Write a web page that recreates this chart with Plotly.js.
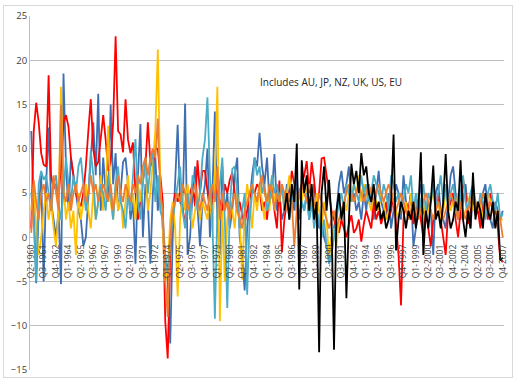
<!DOCTYPE html>
<html>
<head>
<meta charset="utf-8">
<script src="https://cdn.plot.ly/plotly-3.0.1.min.js"></script>
<style>
  html, body { margin: 0; padding: 0; background: #fff; }
  #wrap { position: relative; width: 515px; height: 380px; }
  #chart { position: absolute; left: 0; top: 0; width: 515px; height: 380px; }
  #frame { position: absolute; left: 3px; top: 5px; width: 508px; height: 371px; border: 1px solid #D9D9D9; pointer-events: none; }
</style>
</head>
<body>
<div id="wrap"><div id="chart"></div><div id="frame"></div></div>
<script>
// Quarterly categories, Q2-1960 .. Q4-2007
const startYear = 1960, startQ = 2, nQuarters = 191;
const quarters = [];
for (let i = 0; i < nQuarters; i++) {
  const q = (startQ - 1 + i) % 4 + 1;
  const y = startYear + Math.floor((startQ - 1 + i) / 4);
  quarters.push('Q' + q + '-' + y);
}
const tickLabels = quarters.filter((_, i) => i % 5 === 0);

const seriesNames = ['AU', 'JP', 'NZ', 'UK', 'US', 'EU'];

const blueVals = [
  12, 2, -5.2, 3, 7, -5, 6, 12.4, 4, 2,
  0, 3, -5.3, 18.5, 8, 3, 9, 7, 5, 3,
  2, -1, 0, 5, 9, 13, 7, 16.2, 3, 9,
  5, 4, 15, 6, 9.5, 3, 5, 8.5, 9, 6,
  2, 4, -3, 7, 12.8, 0, 6, 4, -3, 5,
  9, 3, 6, 1, -3, -5, -12, 0, 7, 12.7,
  4, 3, 15.1, -2, 0, 5, 8, 3, -1, 4,
  6, 10, 0, 5, 14.2, 2, -2, 8, 3, 5,
  1, 3, 7, 9, 0, -2, -6, 1, 4, 7,
  9, 8, 11.8, 8, 6, 9, 4, 5, 9.4, 3,
  5, 2, 3, 6, 4, 5, 3, 7, 2, 4,
  3, 5, 2, 4, 6, 3, 1, 2, 0, -1,
  -2, 0, 1, 3, 6, 7.5, 5, 6, 8, 4,
  5, 3, 4, 2, 5, 3, 6, 4, 2, 5,
  7.5, 4, 3, 2, 5, 1, 3, 6, 5, 2,
  7, 4, 3, 5, -1, 1, 4, 6, 3, 2,
  4, 3, -2, 5, 6, 3, 2, 1, 4, 7,
  8, 5, 3, 2, 4, 6, 3, 1, 5, 3,
  4, 2, 5, 6, 3, 2, 1, 4, 3, 2,
  3
];

const redVals = [
  1, 12, 15.2, 13, 9.5, 8.2, 8, 18.3, 7, 5.5,
  6, 4.5, 8, 13, 13.8, 12.5, 9, 7, 5, 4,
  3.5, 5, 8, 12, 15.6, 10, 8, 8.5, 10.8, 13.8,
  11, 7.5, 8.5, 13, 22.7, 12, 11.6, 9.6, 15.6, 11,
  9.5, 10.7, 5, 2, 4, 6.5, 8, 13, 8.5, 8,
  10, 10, 7, 4, -9.5, -13.7, -2, 3, 5, 4,
  5, 3, 1.5, 4, 5, 6, 3.5, 8.7, 5, 7.5,
  7.5, 5, 3, 4, 6, 5, 4, 3, 6, 5,
  6.5, 7.3, 5, 3, 4, 2.5, 1.5, 3, 4.5, 5.5,
  5, 6, 5.5, 3, 4, 2, 5, 6, 3, 1,
  6.4, -1.7, 2, 4, 5, 7.5, 6, 3, 5, 6,
  7, 8.6, 5, 8.5, 6.5, 3, 5, 8.9, 9, 7,
  5, 3, 2, 1, 0.5, 2, 1, 0, 1.5, 2.5,
  0.5, 1, 2, -0.5, 1.5, 3, 2, 1, 4, 2,
  3, 1.5, 2.5, 4, 2, 3, 5, 1, -2, -7.7,
  2, 4, 3, 5, 1.5, 3, 4.5, 2, 0, 3,
  1, -1, 2, 3, 5, 2, 0, -2, 3, 4,
  5, 2, 0, 3, 6.5, 5, 1.5, 3, 4, 2.5,
  3, 1, 4, 3.5, 2, 5, 4, 3, 1, -2.5,
  -2.8
];

const yellowVals = [
  3, 6, 1, -2, 0, 3, 5, 2, 4, 1,
  -1, 3, 17, 6, 2, 4, 1, 3, -2, 5,
  2, 4, 6, 3, 1, 5, 2, 4, 7, 3,
  5, 12.6, 4, 2, 6, 3, 5, 1, 4, 7,
  3, 5, 2, 6, 4, 7, 8, 3, 5, 9,
  12, 21.2, 6, 1, -5, -3.5, 2, 4, 1, -6.7,
  2, 5, 3, 6, 4, 1, 3, 5, 2, 4,
  3, 2, 5, 1, 7, 17, -9.5, 3, -5, 2,
  4, 3, 1, 5, 2, -4.8, 3, 6, 4, 1,
  5, 3, 6, 4, 2, 5, 3, 7, 4, 5,
  4, 6, 3, 5, 7, 4, 6, 3, 5, 4,
  6, 5, 3, 4, 2, 5, 3, 1, 4, 2,
  -2.4, 0, 1, -1, 2, 3, 4, 3, 5, 4,
  6, 5, 7, 4, 6, 5, 4, 3, 5, 4,
  3, 5, 4, 2, 3, 4, 5, 3, 2, 4,
  3, 4, 2, 5, 3, 4, 5, 3, 4, 2,
  3, 4, 5, 3, 4, 2, 3, 5, 4, 3,
  4, 3, 5, 4, 2, 3, 4, 5, 3, 4,
  3, 4, 2, 3, 5, 4, 3, 2, 3, 2,
  2
];

const tealVals = [
  5, 2, -5, 6, 7.5, 6.5, 7, 5, 3, 6,
  7, 4, 2, 5, 9, 6, 4, 7, 5, 8,
  9, 6, 3, 5, 9.7, 7, 2, 4, 6, 5,
  3, 7, 5, 2, 6, 8, 4, 3, 1, 5,
  3, 7, 11.1, 4, 2, 6, 9, 5, 8, 10,
  4, 7, 3, 2, -2, -4, -1, 2, 4, 6,
  8, 3, 1, 5, 2, 7, 6, 3, 5, 9,
  11, 15.8, 7, 2, -9.2, 3, 6, 9, 2, -8,
  3, 7.7, 8, 5, 1, 3, 5, -6.5, 2, 5,
  9, 7, 8, 5, 6, 3, 4, 7, 5, 6,
  4, 6, 3, 5, 2, 4, 6, 3, 5, 4,
  3, 5, 2, 4, 1, 3, 2, 0, 2, -1,
  -3, -2, 0, 2, 4, 5, 3, 6, 5, 4,
  6, 5, 4, 7, 5, 6, 4, 5, 7, 6,
  5, 4, 6, 5, 3, 7, 6, 4, 5, 3,
  4, 6, 5, 7, 3, 5, 2, 4, 6, 3,
  5, 4, 6, 3, 5, 7, 4, 6, 3, 5,
  6, 4, 2, 5, 7, 4, 3, 5, 6, 4,
  3, 5, 4, 2, 5, 6, 4, 3, 5, 2,
  2.7
];

const orangeVals = [
  0.5, 6.5, 4, 2, 5, 6, 4, 5, 3, 7,
  5, 3, 15, 5, 4, 6, 3, 5, 6, 4,
  5, 6, 4, 5, 7, 5, 6, 4, 5, 6,
  5, 4, 6, 3, 5, 7, 5, 4, 6, 5,
  4, 6, 5, 7, 6, 8, 9, 7, 9, 10,
  9, 13.4, 5, 3, -5, -9, 0, 3, 4, 5,
  4, 6, 5, 3, 4, 5, 6, 4, 3, 5,
  4, 3, 5, 6, 4, 8, 2, 5, 3, 4,
  2, 4, 5, 3, 2, 1, 3, 4, 5, 6,
  5, 4, 6, 7, 5, 4, 6, 5, 3, 5,
  4, 6, 5, 3, 5, 4, -1, 3, 5, 6,
  5, 4, 6, 5, 4, 3, 5, 4, 3, 2,
  1, 2, 3, 1, 2, 3, 4, 5, 6, 5,
  4, 5, 6, 5, 4, 5, 6, 5, 4, 5,
  6, 5, 4, 5, 6, 5, 4, 3, 4, 5,
  4, 3, 2, 3, 4, 3, 2, 3, 4, 5,
  4, 3, 2, 3, 4, 3, 2, 3, 4, 5,
  4, 3, 2, 4, 3, 2, 3, 4, 5, 4,
  3, 4, 5, 4, 3, 4, 3, 2, 3, 2,
  0
];

// EU series starts at Q4-1985 (index 102)
const blackStart = 102;
const blackVals = [
  3, 5, 2, 6, 4, 10.6, -5.9, 8.7,
  5, 7, 3, 6, 2, 4, -13, 5, 8, 3,
  6.5, 2, -12.7, 3, 5, 2, 4, -6.9, 2, 8.3,
  6, 7.5, 5, 9.5, 7, 8, 5, 4, 6, 3,
  4, 2, 3, 1, 2, 4, 11.6, -1.5, 2, 4,
  3, 1, 3, 2, 4, 1, 3, 9.6, -2, 3,
  1, 4, 8.1, 2, 3, 1, 4, 9.4, 3, 1,
  2, 4, 3, 8.7, 2, 0, 3, 1, 7.3, 2,
  4, 3, 1, 5, 3, 2, 4, 1, 3, -2.6,
  -2.3
];

const colors = {
  blue: '#3F6FB0', red: '#FF0000', yellow: '#FFC000',
  teal: '#4BACC6', orange: '#ED7D31', black: '#000000'
};

function trace(name, xs, ys, color) {
  return { type: 'scatter', mode: 'lines', name: name, x: xs, y: ys,
           line: { color: color, width: 1.8 }, hoverinfo: 'x+y+name' };
}

const data = [
  trace(seriesNames[0], quarters, blueVals, colors.blue),
  trace(seriesNames[1], quarters, redVals, colors.red),
  trace(seriesNames[2], quarters, yellowVals, colors.yellow),
  trace(seriesNames[3], quarters, tealVals, colors.teal),
  trace(seriesNames[4], quarters, orangeVals, colors.orange),
  trace(seriesNames[5], quarters.slice(blackStart, blackStart + blackVals.length), blackVals, colors.black)
];

const layout = {
  width: 515, height: 380,
  margin: { l: 30, r: 11, t: 16, b: 10 },
  paper_bgcolor: 'rgba(0,0,0,0)', plot_bgcolor: '#fff',
  showlegend: false,
  font: { family: 'Open Sans, sans-serif', color: '#595959' },
  xaxis: {
    type: 'category', categoryorder: 'array', categoryarray: quarters,
    range: [-0.5, nQuarters - 0.5],
    anchor: 'free', position: 0.375,
    showgrid: false, zeroline: false, showline: false,
    tickmode: 'array', tickvals: tickLabels, ticktext: tickLabels,
    tickangle: -90, ticks: 'outside', ticklen: 3, tickcolor: 'rgba(0,0,0,0)',
    tickfont: { size: 8.5, color: '#404040', family: 'Open Sans, sans-serif' }
  },
  yaxis: {
    range: [-15, 25], dtick: 5, tick0: 0,
    showgrid: true, gridcolor: '#BFBFBF', gridwidth: 1,
    zeroline: true, zerolinecolor: '#BFBFBF', zerolinewidth: 1,
    showline: true, linecolor: '#BFBFBF', linewidth: 1,
    ticks: '', tickfont: { size: 9.5, color: '#404040' }
  },
  annotations: [{
    xref: 'paper', yref: 'y', x: 0.48, y: 17.5, xanchor: 'left', yanchor: 'middle',
    text: 'Includes AU, JP, NZ, UK, US, EU', showarrow: false,
    font: { size: 10, color: '#262626', family: 'Open Sans, sans-serif' }
  }]
};

Plotly.newPlot('chart', data, layout, { displayModeBar: false, staticPlot: true });
</script>
</body>
</html>
